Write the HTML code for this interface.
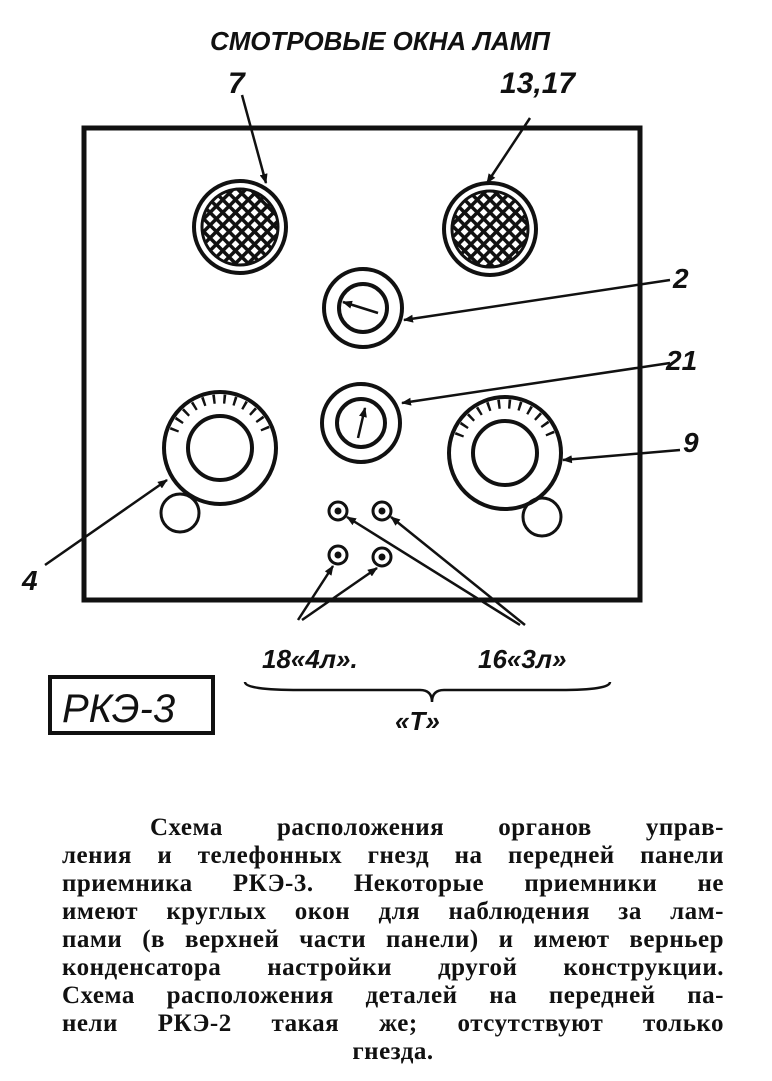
<!DOCTYPE html>
<html><head><meta charset="utf-8"><style>
body{margin:0;background:#fff;width:772px;height:1081px;overflow:hidden;position:relative}
svg{position:absolute;left:0;top:0}
.t{position:absolute;left:62px;width:662px;top:814px;font-family:"Liberation Serif",serif;font-size:25px;line-height:28px;color:#111;font-weight:bold;letter-spacing:0.5px}
.t div{text-align:justify;text-align-last:justify;height:28px;white-space:nowrap}
</style></head><body>
<svg width="772" height="1081" viewBox="0 0 772 1081">
<defs>
<pattern id="h" width="9" height="9" patternUnits="userSpaceOnUse" patternTransform="rotate(45)">
<rect width="9" height="9" fill="#fff"/><rect width="3.5" height="9" fill="#111"/><rect width="9" height="3.5" fill="#111"/></pattern>
<marker id="a" markerWidth="10" markerHeight="8" refX="9" refY="4" orient="auto" markerUnits="userSpaceOnUse"><path d="M0,0 L10,4 L0,8z" fill="#111"/></marker>
</defs>
<g fill="none" stroke="#111" stroke-width="4">
<rect x="84" y="128" width="556" height="472" stroke-width="5"/>
<circle cx="240" cy="227" r="46"/><circle cx="240" cy="227" r="38" fill="url(#h)" stroke-width="3"/>
<circle cx="490" cy="229" r="46"/><circle cx="490" cy="229" r="38" fill="url(#h)" stroke-width="3"/>
<circle cx="363" cy="308" r="39"/><circle cx="363" cy="308" r="24"/>
<circle cx="361" cy="423" r="39"/><circle cx="361" cy="423" r="24"/>
<circle cx="220" cy="448" r="56"/><circle cx="220" cy="448" r="32"/>
<circle cx="505" cy="453" r="56"/><circle cx="505" cy="453" r="32"/>
<circle cx="180" cy="513" r="19" stroke-width="3"/><circle cx="542" cy="517" r="19" stroke-width="3"/>
<circle cx="338" cy="511" r="9" stroke-width="3"/><circle cx="382" cy="511" r="9" stroke-width="3"/>
<circle cx="338" cy="555" r="9" stroke-width="3"/><circle cx="382" cy="557" r="9" stroke-width="3"/>
</g>
<g fill="#111"><circle cx="338" cy="511" r="3.5"/><circle cx="382" cy="511" r="3.5"/><circle cx="338" cy="555" r="3.5"/><circle cx="382" cy="557" r="3.5"/></g>
<g stroke="#111" stroke-width="9" fill="none" stroke-dasharray="2.5 8">
<path d="M174,431 A49,49 0 0 1 266,431"/>
<path d="M459,436 A49,49 0 0 1 551,436"/>
</g>
<g stroke="#111" stroke-width="2.5" fill="none" marker-end="url(#a)">
<line x1="378" y1="313" x2="343" y2="302"/>
<line x1="358" y1="438" x2="365" y2="408"/>
<line x1="242" y1="95" x2="266" y2="183"/>
<line x1="530" y1="118" x2="487" y2="183"/>
<line x1="670" y1="280" x2="404" y2="320"/>
<line x1="670" y1="363" x2="402" y2="403"/>
<line x1="680" y1="450" x2="563" y2="460"/>
<line x1="45" y1="565" x2="167" y2="480"/>
<line x1="298" y1="620" x2="333" y2="566"/>
<line x1="302" y1="620" x2="377" y2="568"/>
<line x1="520" y1="625" x2="347" y2="517"/>
<line x1="525" y1="625" x2="391" y2="517"/>
</g>
<path d="M245,682 Q245,690 300,690 L420,690 Q432,690 432,702 Q432,690 444,690 L560,690 Q610,690 610,682" fill="none" stroke="#111" stroke-width="2.5"/>
<rect x="50" y="677" width="163" height="56" fill="none" stroke="#111" stroke-width="4"/>
<g font-family="Liberation Sans,sans-serif" font-style="italic" font-weight="bold" fill="#111">
<text x="210" y="50" font-size="26" textLength="340">СМОТРОВЫЕ ОКНА ЛАМП</text>
<text x="228" y="93" font-size="30">7</text>
<text x="500" y="93" font-size="30">13,17</text>
<text x="673" y="288" font-size="28">2</text>
<text x="666" y="370" font-size="28">21</text>
<text x="683" y="452" font-size="28">9</text>
<text x="22" y="590" font-size="28">4</text>
<text x="262" y="668" font-size="26">18«4л».</text>
<text x="478" y="668" font-size="26">16«3л»</text>
<text x="395" y="730" font-size="26">«Т»</text>
<text x="62" y="722" font-size="40" font-weight="normal">РКЭ-3</text>
</g>
</svg>
<div class="t">
<div style="padding-left:88px">Схема расположения органов управ-</div>
<div>ления и телефонных гнезд на передней панели</div>
<div>приемника РКЭ-3. Некоторые приемники не</div>
<div>имеют круглых окон для наблюдения за лам-</div>
<div>пами (в верхней части панели) и имеют верньер</div>
<div>конденсатора настройки другой конструкции.</div>
<div>Схема расположения деталей на передней па-</div>
<div>нели РКЭ-2 такая же; отсутствуют только</div>
<div style="text-align:center;text-align-last:center">гнезда.</div>
</div>
</body></html>
